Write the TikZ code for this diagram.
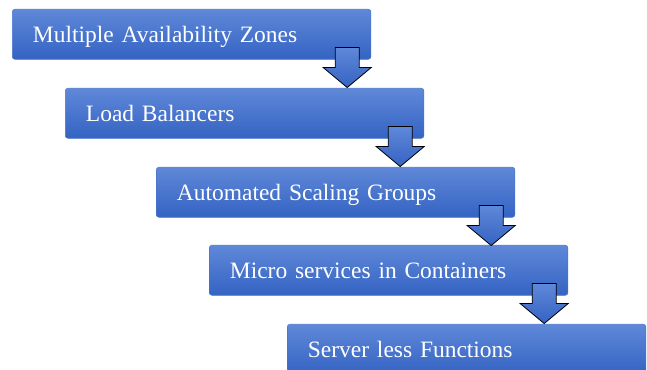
\documentclass[tikz,border=0pt]{standalone}
\usepackage{fontspec}
\setmainfont{Liberation Serif}
\usetikzlibrary{positioning}
\definecolor{boxtop}{HTML}{5F88D8}
\definecolor{boxbot}{HTML}{3463C3}
\definecolor{boxline}{HTML}{4A74CC}

\begin{document}
\begin{tikzpicture}[x=0.75pt, y=0.75pt]
    % Styles
    \tikzset{
      stage/.style={rectangle, rounded corners=2pt, draw=boxline, top color=boxtop, bottom color=boxbot,
        anchor=north west, minimum width=269pt, minimum height=37.5pt, text width=238pt,
        text height=12pt, text depth=0pt,
        inner xsep=15.5pt, align=left, text=white, font=\fontsize{17.6}{20}\selectfont},
      darrow/.pic={\draw [black, line width=0.6pt, top color=boxtop, bottom color=boxbot]
        (-12,0) -- (12,0) -- (12,-20) -- (24,-20) -- (0,-40) -- (-24,-20) -- (-12,-20) -- cycle;}
    }
    \useasboundingbox (0,0) rectangle (647,-370);

    % Nodes
    \node [stage] (zones) at (12,-9) {Multiple Availability Zones};
    \node [stage] (balancers) at (65,-88) {Load Balancers};
    \node [stage] (scaling) at (156,-167) {Automated Scaling Groups};
    \node [stage] (micro) at (209,-245) {Micro services in Containers};
    \node [stage] (serverless) at (287,-324) {Server less Functions};

    % Arrows
    \pic at ([shift={(-24,12)}]zones.south east) {darrow};
    \pic at ([shift={(-24,12)}]balancers.south east) {darrow};
    \pic at ([shift={(-24,12)}]scaling.south east) {darrow};
    \pic at ([shift={(-24,12)}]micro.south east) {darrow};

\end{tikzpicture}
\end{document}
